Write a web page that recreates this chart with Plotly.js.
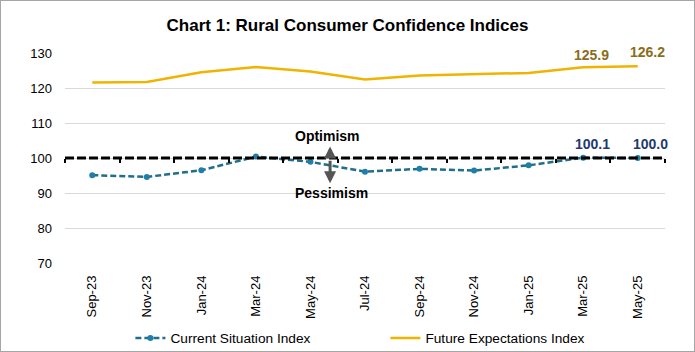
<!DOCTYPE html>
<html>
<head>
<meta charset="utf-8">
<script src="https://cdn.plot.ly/plotly-3.0.1.min.js"></script>
<style>
html,body{margin:0;padding:0;background:#fff;}
#wrap{width:695px;height:352px;box-sizing:border-box;border:1px solid #a6a6a6;overflow:hidden;}
#chart{width:693px;height:350px;}
</style>
</head>
<body>
<div id="wrap"><div id="chart"></div></div>
<script>
const months = ["Sep-23","Nov-23","Jan-24","Mar-24","May-24","Jul-24","Sep-24","Nov-24","Jan-25","Mar-25","May-25"];
const currentSituation = [95.1, 94.6, 96.5, 100.4, 98.9, 96.1, 96.9, 96.4, 97.9, 100.1, 100.0];
const futureExpectations = [121.6, 121.7, 124.5, 126.0, 124.7, 122.4, 123.6, 124.0, 124.3, 125.9, 126.2];
const neutralLevel = 100;
const yTicks = [70, 80, 90, 100, 110, 120, 130];

const FONT = "Arial, 'Liberation Sans', sans-serif";

const n = months.length;
const xSpan = [-0.5, n - 0.5];
const traces = [
  {x: xSpan, y: xSpan.map(() => neutralLevel), xaxis: "x2", yaxis: "y", type: "scatter", mode: "lines",
   line: {color: "#000", width: 3, dash: "9px,3px"}, showlegend: false, hoverinfo: "skip"},
  {
    x: months, y: currentSituation, type: "scatter", mode: "lines+markers",
    name: "Current Situation Index",
    line: {color: "#1f6f8b", width: 2.5, dash: "6px,3px"},
    marker: {color: "#1f7fa8", size: 6}
  },
  {
    x: months, y: futureExpectations, type: "scatter", mode: "lines",
    name: "Future Expectations Index",
    line: {color: "#f0b400", width: 2.5}
  }
];

const annotations = [];
const futShift = [[8, 12], [10, 14]];
const curShift = [[9, 14], [13, 14]];
[n - 2, n - 1].forEach((i, k) => {
  annotations.push({
    x: months[i], y: futureExpectations[i], xref: "x", yref: "y",
    text: "<b>" + futureExpectations[i].toFixed(1) + "</b>", showarrow: false,
    xshift: futShift[k][0], yshift: futShift[k][1],
    font: {family: FONT, size: 14, color: "#8a6d1a"}
  });
  annotations.push({
    x: months[i], y: currentSituation[i], xref: "x", yref: "y",
    text: "<b>" + currentSituation[i].toFixed(1) + "</b>", showarrow: false,
    xshift: curShift[k][0], yshift: curShift[k][1],
    font: {family: FONT, size: 14, color: "#1f3a6e"}
  });
});
// Optimism / Pessimism arrows (tail at the neutral line)
annotations.push({x: 4.36, y: 103.3, xref: "x", yref: "y", text: "", showarrow: true,
  ax: 0, ay: 11, arrowhead: 2, arrowsize: 0.8, arrowwidth: 3, arrowcolor: "#555555", standoff: 0});
annotations.push({x: 4.36, y: 92.8, xref: "x", yref: "y", text: "", showarrow: true,
  ax: 0, ay: -24, arrowhead: 2, arrowsize: 0.8, arrowwidth: 3, arrowcolor: "#555555", standoff: 0});
annotations.push({x: 4.32, y: 106.4, xref: "x", yref: "y", text: "<b>Optimism</b>", showarrow: false,
  font: {family: FONT, size: 14, color: "#000"}});
annotations.push({x: 4.38, y: 89.9, xref: "x", yref: "y", text: "<b>Pessimism</b>", showarrow: false,
  font: {family: FONT, size: 14, color: "#000"}});

const layout = {
  width: 693, height: 350,
  margin: {l: 64, r: 29, t: 52, b: 88, autoexpand: false},
  paper_bgcolor: "#ffffff", plot_bgcolor: "#ffffff",
  title: {text: "<b>Chart 1: Rural Consumer Confidence Indices</b>", x: 0.5, xanchor: "center", y: 0.931, yanchor: "middle",
    font: {family: FONT, size: 17, color: "#000"}},
  showlegend: true,
  legend: {orientation: "h", x: 0.534, xanchor: "center", y: -0.357, yanchor: "middle",
    font: {family: FONT, size: 13.7, color: "#000"}, traceorder: "normal", entrywidth: 210},
  xaxis: {type: "category", range: xSpan, tickangle: -90, showgrid: false, zeroline: false, showline: false, ticks: "",
    tickfont: {family: FONT, size: 13, color: "#000"}, ticklabelstandoff: 9, automargin: false},
  xaxis2: {overlaying: "x", type: "linear", range: xSpan, tick0: -0.5, dtick: 1, anchor: "free", position: 0.5,
    side: "bottom", showticklabels: false, ticks: "outside", ticklen: 4, tickwidth: 2, tickcolor: "#000",
    showgrid: false, zeroline: false, showline: false, layer: "above traces"},
  yaxis: {range: [70, 130], tickvals: yTicks, showgrid: true, gridcolor: "#d9d9d9", gridwidth: 1, zeroline: false,
    showline: false, ticks: "", tickfont: {family: FONT, size: 13, color: "#000"}, ticklabelstandoff: 12, automargin: false},
  annotations: annotations
};

Plotly.newPlot("chart", traces, layout, {displayModeBar: false, staticPlot: true});
</script>
</body>
</html>
